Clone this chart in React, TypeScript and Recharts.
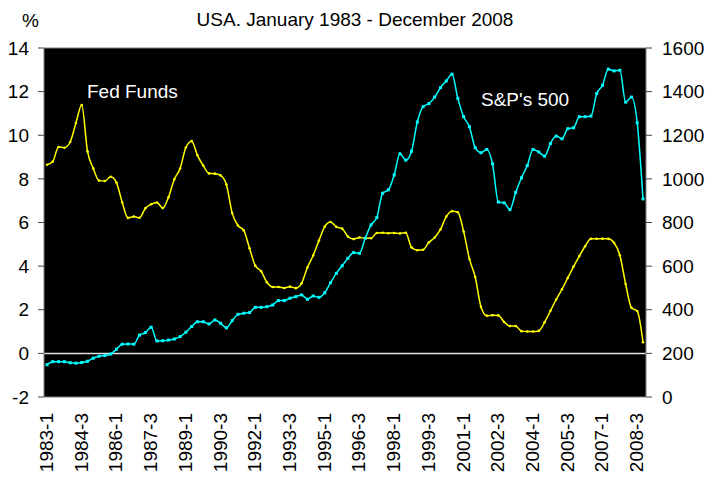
import { LineChart, Line, XAxis, YAxis, CartesianGrid, ReferenceLine } from 'recharts';

const FONT = '"Liberation Sans", Arial, sans-serif';

const YEARS = [
  1983, 1984, 1985, 1986, 1987, 1988, 1989, 1990, 1991, 1992, 1993, 1994, 1995,
  1996, 1997, 1998, 1999, 2000, 2001, 2002, 2003, 2004, 2005, 2006, 2007, 2008,
];

// quarter labels like "1983-1"
const QUARTERS = YEARS.flatMap((y) => [1, 2, 3, 4].map((q) => `${y}-${q}`));

// Fed funds rate, %, quarterly (left axis)
const FED_FUNDS = [
  8.65, 8.8, 9.46, 9.43,
  9.69, 10.56, 11.39, 9.26,
  8.48, 7.92, 7.9, 8.1,
  7.83, 6.92, 6.21, 6.27,
  6.22, 6.65, 6.84, 6.92,
  6.66, 7.16, 7.98, 8.47,
  9.44, 9.73, 9.08, 8.61,
  8.25, 8.24, 8.16, 7.74,
  6.43, 5.86, 5.64, 4.82,
  4.02, 3.77, 3.26, 3.04,
  3.04, 3.0, 3.06, 2.99,
  3.21, 3.94, 4.49, 5.17,
  5.81, 6.02, 5.8, 5.72,
  5.36, 5.24, 5.31, 5.28,
  5.28, 5.52, 5.53, 5.51,
  5.52, 5.5, 5.53, 4.86,
  4.73, 4.75, 5.09, 5.31,
  5.68, 6.27, 6.52, 6.47,
  5.59, 4.33, 3.5, 2.13,
  1.73, 1.75, 1.74, 1.44,
  1.25, 1.25, 1.02, 1.0,
  1.0, 1.03, 1.43, 1.95,
  2.47, 2.94, 3.46, 3.98,
  4.46, 4.91, 5.25, 5.25,
  5.26, 5.25, 5.07, 4.5,
  3.18, 2.09, 1.94, 0.51,
];

// S&P 500 index, quarterly (right axis)
const SP500 = [
  148, 162, 162, 162,
  157, 155, 158, 164,
  178, 187, 190, 197,
  219, 242, 243, 242,
  284, 295, 320, 257,
  258, 261, 266, 277,
  297, 323, 345, 345,
  335, 353, 338, 317,
  350, 379, 384, 387,
  411, 411, 414, 422,
  442, 442, 453, 460,
  468, 448, 463, 457,
  478, 524, 567, 601,
  636, 662, 659, 728,
  789, 823, 934, 950,
  1018, 1115, 1086, 1127,
  1261, 1331, 1345, 1375,
  1418, 1449, 1480, 1369,
  1285, 1239, 1143, 1120,
  1135, 1069, 894, 890,
  859, 938, 1005, 1061,
  1135, 1123, 1104, 1162,
  1196, 1184, 1230, 1234,
  1285, 1285, 1288, 1391,
  1429, 1503, 1495, 1498,
  1352, 1375, 1257, 908,
];

const LEFT_TICKS = [-2, 0, 2, 4, 6, 8, 10, 12, 14];
const RIGHT_TICKS = [0, 200, 400, 600, 800, 1000, 1200, 1400, 1600];

const data = QUARTERS.map((q, i) => ({ q, fed: FED_FUNDS[i], sp: SP500[i] }));

const QuarterTick = (props: any) => {
  const { x, y, payload } = props;
  const tx = x + 6;
  return (
    <text
      x={tx}
      y={y}
      transform={`rotate(-90, ${tx}, ${y})`}
      textAnchor="end"
      fontSize={19}
      fontFamily={FONT}
      fill="#000"
    >
      {payload.value}
    </text>
  );
};

const SquareDot = (props: any) => {
  const { cx, cy } = props;
  if (cx == null || cy == null) return null;
  return <rect x={cx - 1.5} y={cy - 1.5} width={3} height={3} fill="#00ffff" />;
};

const tickStyle = { fontSize: 19, fill: '#000', fontFamily: FONT };

export default function App() {
  return (
    <div style={{ position: 'absolute', left: 0, top: 0, width: 707, height: 478, background: '#fff' }}>
      <LineChart width={707} height={478} data={data} margin={{ top: 48, right: 0, bottom: 0, left: 0 }}>
        <CartesianGrid yAxisId="left" horizontal={false} vertical={false} fill="#000" fillOpacity={1} />
        <XAxis
          dataKey="q"
          interval={5}
          height={81}
          padding={{ left: 3, right: 3 }}
          tickLine={false}
          tickSize={0}
          tickMargin={16}
          axisLine={{ stroke: '#808080' }}
          tick={<QuarterTick />}
        />
        <YAxis
          yAxisId="left"
          width={44}
          domain={[-2, 14]}
          ticks={LEFT_TICKS}
          allowDataOverflow
          tickSize={6}
          tickMargin={9}
          axisLine={{ stroke: '#808080' }}
          tickLine={{ stroke: '#404040' }}
          tick={tickStyle}
        />
        <YAxis
          yAxisId="right"
          orientation="right"
          width={61}
          domain={[0, 1600]}
          ticks={RIGHT_TICKS}
          allowDataOverflow
          tickSize={6}
          tickMargin={10}
          axisLine={{ stroke: '#808080' }}
          tickLine={{ stroke: '#404040' }}
          tick={tickStyle}
        />
        <ReferenceLine yAxisId="left" y={14} stroke="#808080" />
        <ReferenceLine yAxisId="left" y={0} stroke="#e0e0e0" strokeWidth={1.5} />
        <Line
          yAxisId="left"
          dataKey="fed"
          type="monotone"
          stroke="#ffff00"
          strokeWidth={1.5}
          dot={{ r: 1.3, fill: '#ffff00', stroke: 'none' }}
          isAnimationActive={false}
        />
        <Line
          yAxisId="right"
          dataKey="sp"
          type="monotone"
          stroke="#00ffff"
          strokeWidth={1.5}
          dot={<SquareDot />}
          isAnimationActive={false}
        />
      </LineChart>
      <svg
        width={707}
        height={478}
        style={{ position: 'absolute', left: 0, top: 0, pointerEvents: 'none' }}
        fontFamily={FONT}
        fontSize={19}
      >
        <text x={355} y={26} textAnchor="middle" fill="#000">USA. January 1983 - December 2008</text>
        <text x={22} y={27} fill="#000">%</text>
        <text x={87} y={98} fill="#fff">Fed Funds</text>
        <text x={481} y={106} fill="#fff">S&amp;P's 500</text>
      </svg>
    </div>
  );
}
